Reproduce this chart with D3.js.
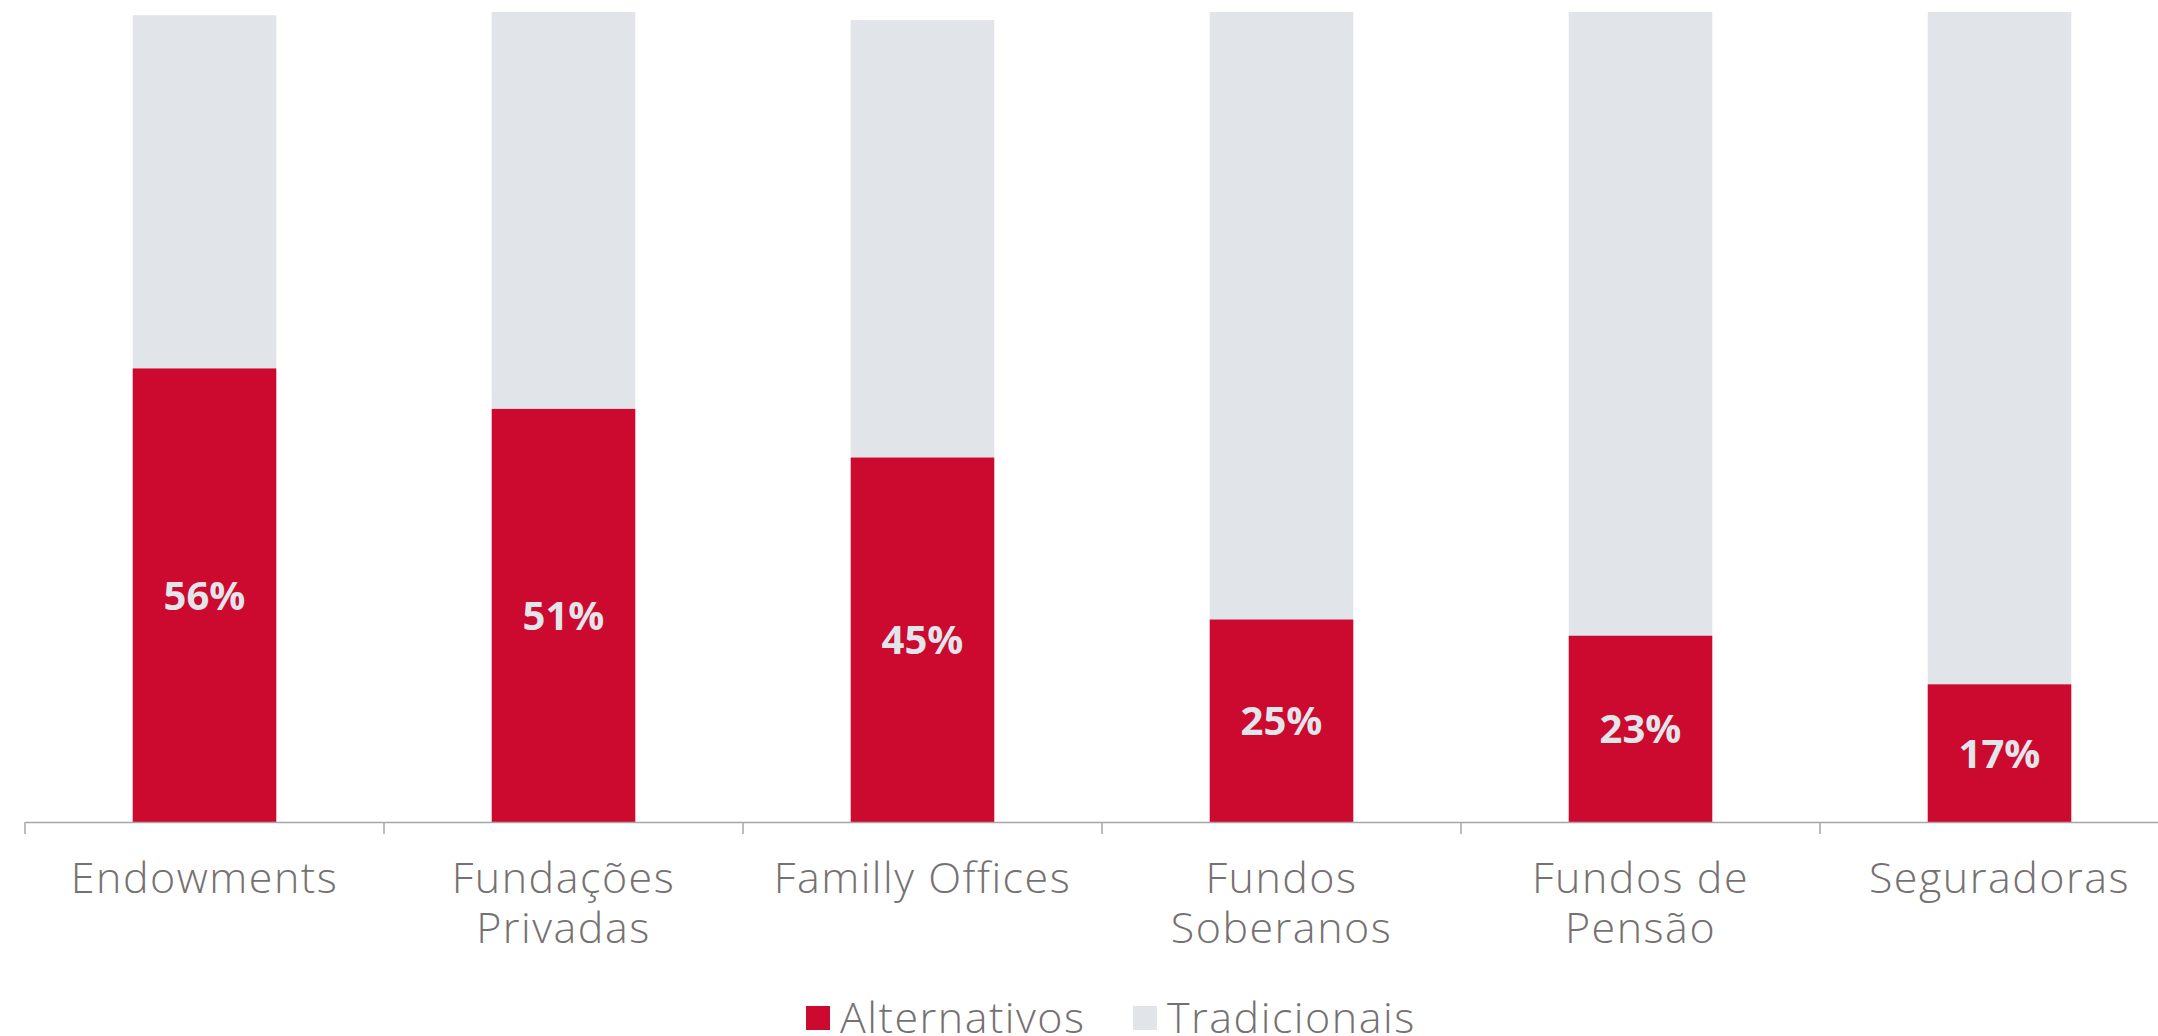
<!DOCTYPE html>
<html>
<head>
<meta charset="utf-8">
<script src="https://cdn.jsdelivr.net/npm/d3@7"></script>
<style>
  body { margin: 0; background: #fff; }
  svg { display: block; }
</style>
</head>
<body>
<div id="chart"></div>
<script>
// chart data
var categories = ["Endowments", "Fundações Privadas", "Familly Offices", "Fundos Soberanos", "Fundos de Pensão", "Seguradoras"];
var labelLines = [["Endowments"], ["Fundações", "Privadas"], ["Familly Offices"], ["Fundos", "Soberanos"], ["Fundos de", "Pensão"], ["Seguradoras"]];
var alternativos = [56, 51, 45, 25, 23, 17];
var tradicionais = [43.6, 49, 54, 75, 77, 83];
var seriesNames = ["Alternativos", "Tradicionais"];

var width = 2158,
    height = 1036,
    baseY = 822,
    topY = 12;

var red = "#cc0a2f",
    grey = "#e1e4e9",
    textGrey = "#767171";

var labelFont = "'Open Sans', sans-serif";

var svg = d3.select("#chart")
    .append("svg")
    .attr("width", width)
    .attr("height", height);

var x = d3.scaleBand()
    .domain(categories)
    .range([25, 2179])
    .padding(0);

var y = d3.scaleLinear()
    .domain([0, 100])
    .range([baseY, topY]);

var barW = x.bandwidth() * 0.4;
var barX = function(d) { return x(d) + (x.bandwidth() - barW) / 2; };

var rows = categories.map(function(c, i) {
    return {cat: c, alt: alternativos[i], trad: tradicionais[i], lines: labelLines[i]};
});

// grey segments (Tradicionais) stacked on top
svg.append("g")
    .selectAll("rect")
    .data(rows)
    .enter()
    .append("rect")
    .attr("x", function(d) { return barX(d.cat); })
    .attr("width", barW)
    .attr("y", function(d) { return y(d.alt + d.trad); })
    .attr("height", function(d) { return y(d.alt) - y(d.alt + d.trad); })
    .style("fill", grey);

// red segments (Alternativos)
svg.append("g")
    .selectAll("rect")
    .data(rows)
    .enter()
    .append("rect")
    .attr("x", function(d) { return barX(d.cat); })
    .attr("width", barW)
    .attr("y", function(d) { return y(d.alt); })
    .attr("height", function(d) { return y(0) - y(d.alt); })
    .style("fill", red);

// value labels
svg.append("g")
    .selectAll("text")
    .data(rows)
    .enter()
    .append("text")
    .attr("x", function(d) { return x(d.cat) + x.bandwidth() / 2; })
    .attr("y", function(d) { return (y(d.alt) + y(0)) / 2; })
    .attr("dy", "0.36em")
    .attr("text-anchor", "middle")
    .style("font-family", "'Open Sans', sans-serif")
    .style("font-weight", "700")
    .style("font-size", "40px")
    .style("fill", "#e2e5ea")
    .text(function(d) { return d.alt + "%"; });

// axis line + ticks at band edges
var axis = svg.append("g")
    .attr("transform", "translate(0," + baseY + ")")
    .call(d3.axisBottom(x).tickSize(0).tickSizeOuter(0).tickFormat(""));
axis.select(".domain").attr("stroke", "#a6a6a6").attr("stroke-width", 1.5);

axis.selectAll(".edge")
    .data(categories)
    .enter()
    .append("line")
    .attr("class", "edge")
    .attr("x1", function(d) { return x(d); })
    .attr("x2", function(d) { return x(d); })
    .attr("y1", 0)
    .attr("y2", 12)
    .attr("stroke", "#a6a6a6")
    .attr("stroke-width", 1.5);

// category labels
var lbl = svg.append("g")
    .selectAll("text")
    .data(rows)
    .enter()
    .append("text")
    .attr("text-anchor", "middle")
    .style("font-family", labelFont)
    .style("font-weight", "300")
    .style("font-size", "43px")
    .style("letter-spacing", "1.5px")
    .style("fill", textGrey);

lbl.selectAll("tspan")
    .data(function(d) { return d.lines.map(function(l) { return {line: l, cat: d.cat}; }); })
    .enter()
    .append("tspan")
    .attr("x", function(d) { return x(d.cat) + x.bandwidth() / 2; })
    .attr("y", function(d, i) { return 893 + i * 50; })
    .text(function(d) { return d.line; });

// legend
var legend = svg.append("g")
    .attr("transform", "translate(806,1018)");

var legendX = [0, 327];
var legendColors = [red, grey];

var item = legend.selectAll("g")
    .data(seriesNames)
    .enter()
    .append("g")
    .attr("transform", function(d, i) { return "translate(" + legendX[i] + ",0)"; });

item.append("rect")
    .attr("x", 0)
    .attr("y", -12)
    .attr("width", 24)
    .attr("height", 24)
    .style("fill", function(d, i) { return legendColors[i]; });

item.append("text")
    .attr("x", 34)
    .attr("y", 0)
    .attr("dy", "0.36em")
    .style("font-family", labelFont)
    .style("font-weight", "300")
    .style("font-size", "43px")
    .style("letter-spacing", "1.5px")
    .style("fill", textGrey)
    .text(function(d) { return d; });
</script>
</body>
</html>
